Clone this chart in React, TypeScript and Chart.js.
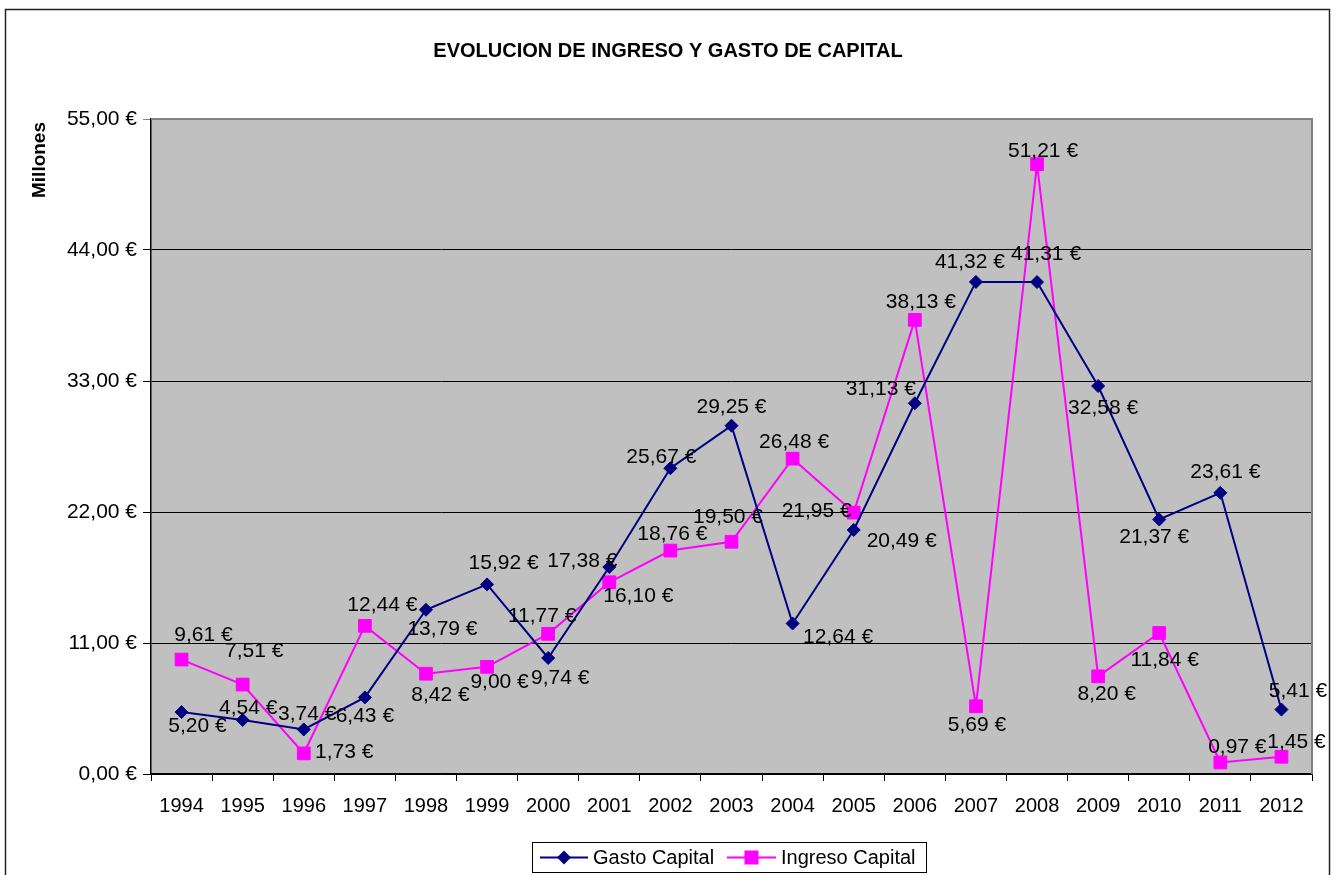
import React, { useEffect, useRef } from 'react';
import { Chart, registerables } from 'chart.js';

Chart.register(...registerables);

const years = ['1994', '1995', '1996', '1997', '1998', '1999', '2000', '2001', '2002', '2003', '2004', '2005', '2006', '2007', '2008', '2009', '2010', '2011', '2012'];
const gastoCapital = [5.2, 4.54, 3.74, 6.43, 13.79, 15.92, 9.74, 17.38, 25.67, 29.25, 12.64, 20.49, 31.13, 41.32, 41.31, 32.58, 21.37, 23.61, 5.41];
const ingresoCapital = [9.61, 7.51, 1.73, 12.44, 8.42, 9.0, 11.77, 16.1, 18.76, 19.5, 26.48, 21.95, 38.13, 5.69, 51.21, 8.2, 11.84, 0.97, 1.45];
const yMin = 0;
const yMax = 55;
const yStep = 11;
const chartTitle = 'EVOLUCION DE INGRESO Y GASTO DE CAPITAL';
const yAxisTitle = 'Millones';
const seriesNames = ['Gasto Capital', 'Ingreso Capital'];

// Placement of each data label (label centre relative to its point, in px)
const gastoLabelOffsets: [number, number][] = [
  [16, 13], [5.5, -13.4], [3.5, -16.5], [0, 17], [16.5, 18], [16.5, -23], [12, 18.5], [-27, -7.5], [-9, -13], [0, -20],
  [45.5, 12.5], [48, 10], [-34, -16], [-6, -21], [9, -29], [5, 20.5], [-5, 16], [5, -22.3], [16.5, -20],
];
const ingresoLabelOffsets: [number, number][] = [
  [22, -26], [11.5, -34.6], [40.5, -3], [17.5, -22.4], [14.5, 19.5], [12.5, 14], [-6, -19], [29, 12], [2, -17.6], [-3.5, -26],
  [1.5, -18], [-37, -3], [6, -19.4], [1, 17], [6, -14.6], [8.5, 16], [5.5, 26], [17, -17], [15, -16],
];

const FONT = '"Liberation Sans", Arial, sans-serif';
const NAVY = '#000080';
const MAGENTA = '#FF00FF';

const euro = (v: number) => v.toFixed(2).replace('.', ',') + ' €';

const decorPlugin = {
  id: 'decor',
  beforeDraw(chart: any) {
    const { ctx, chartArea, width } = chart;
    ctx.save();
    ctx.fillStyle = '#ffffff';
    ctx.fillRect(0, 0, chart.width, chart.height);
    // outer frame
    ctx.strokeStyle = '#222';
    ctx.lineWidth = 1.5;
    ctx.strokeRect(5.5, 9.5, width - 16, chart.height + 20);
    // title
    ctx.fillStyle = '#000';
    ctx.font = `bold 20px ${FONT}`;
    ctx.textAlign = 'center';
    ctx.textBaseline = 'middle';
    ctx.fillText(chartTitle, 668, 51);
    // y title
    ctx.save();
    ctx.translate(40, 160);
    ctx.rotate(-Math.PI / 2);
    ctx.font = `bold 19px ${FONT}`;
    ctx.fillText(yAxisTitle, 0, 0);
    ctx.restore();
    // plot background
    ctx.fillStyle = '#C0C0C0';
    ctx.fillRect(chartArea.left, chartArea.top, chartArea.right - chartArea.left, chartArea.bottom - chartArea.top);
    ctx.restore();
  },
  beforeDatasetsDraw(chart: any) {
    const { ctx, chartArea } = chart;
    ctx.save();
    ctx.strokeStyle = '#808080';
    ctx.lineWidth = 2;
    ctx.beginPath();
    ctx.moveTo(chartArea.left, chartArea.top);
    ctx.lineTo(chartArea.right, chartArea.top);
    ctx.lineTo(chartArea.right, chartArea.bottom);
    ctx.stroke();
    ctx.restore();
  },
  afterDatasetsDraw(chart: any) {
    const { ctx } = chart;
    ctx.save();
    ctx.font = `21px ${FONT}`;
    ctx.fillStyle = '#000';
    ctx.textAlign = 'center';
    ctx.textBaseline = 'middle';
    const offsets = [gastoLabelOffsets, ingresoLabelOffsets];
    chart.data.datasets.forEach((ds: any, di: number) => {
      const meta = chart.getDatasetMeta(di);
      meta.data.forEach((pt: any, i: number) => {
        const [dx, dy] = offsets[di][i];
        ctx.fillText(euro(ds.data[i]), pt.x + dx, pt.y + dy + 1.5);
      });
    });

    // legend
    ctx.font = `20px ${FONT}`;
    const lx = 532.5, ly = 842.5, lw = 394, lh = 30;
    ctx.fillStyle = '#fff';
    ctx.fillRect(lx, ly, lw, lh);
    ctx.strokeStyle = '#000';
    ctx.lineWidth = 1;
    ctx.strokeRect(lx, ly, lw, lh);
    const cy = 857.5;
    // gasto
    ctx.strokeStyle = NAVY;
    ctx.lineWidth = 2;
    ctx.beginPath();
    ctx.moveTo(540, cy);
    ctx.lineTo(588, cy);
    ctx.stroke();
    ctx.fillStyle = NAVY;
    ctx.beginPath();
    ctx.moveTo(564, cy - 7);
    ctx.lineTo(571, cy);
    ctx.lineTo(564, cy + 7);
    ctx.lineTo(557, cy);
    ctx.closePath();
    ctx.fill();
    // ingreso
    ctx.strokeStyle = MAGENTA;
    ctx.beginPath();
    ctx.moveTo(727, cy);
    ctx.lineTo(776, cy);
    ctx.stroke();
    ctx.fillStyle = MAGENTA;
    ctx.fillRect(751.5 - 7, cy - 7, 14, 14);
    ctx.fillStyle = '#000';
    ctx.textAlign = 'left';
    ctx.fillText(seriesNames[0], 593, cy + 1);
    ctx.fillText(seriesNames[1], 781, cy + 1);
    ctx.restore();
  },
};

export default function App() {
  const ref = useRef<HTMLCanvasElement | null>(null);
  useEffect(() => {
    if (!ref.current) return;
    Chart.defaults.font.family = FONT;
    const chart = new Chart(ref.current, {
      type: 'line',
      data: {
        labels: years,
        datasets: [
          {
            label: seriesNames[0],
            data: gastoCapital,
            borderColor: NAVY,
            backgroundColor: NAVY,
            borderWidth: 2,
            pointStyle: 'rectRot',
            pointRadius: 6.5,
            pointBorderWidth: 1,
            pointBorderColor: NAVY,
            pointBackgroundColor: NAVY,
            tension: 0,
            fill: false,
          },
          {
            label: seriesNames[1],
            data: ingresoCapital,
            borderColor: MAGENTA,
            backgroundColor: MAGENTA,
            borderWidth: 2,
            pointStyle: 'rect',
            pointRadius: 9,
            pointBorderWidth: 1,
            pointBorderColor: MAGENTA,
            pointBackgroundColor: MAGENTA,
            tension: 0,
            fill: false,
          },
        ],
      },
      options: {
        responsive: false,
        animation: false,
        events: [],
        layout: { padding: { left: 0, top: 119, right: 28, bottom: 61 } },
        plugins: {
          legend: { display: false },
          title: { display: false },
          tooltip: { enabled: false },
        },
        scales: {
          x: {
            type: 'category',
            offset: true,
            grid: {
              display: true,
              offset: true,
              drawOnChartArea: false,
              drawTicks: true,
              tickLength: 7,
              color: '#000',
              lineWidth: 1,
            },
            border: { display: true, color: '#000', width: 1.5 },
            ticks: { color: '#000', font: { size: 20, family: FONT }, padding: 13, maxRotation: 0, autoSkip: false },
            afterFit: (scale: any) => {
              scale.height = 40;
            },
          },
          y: {
            min: yMin,
            max: yMax,
            grid: {
              color: (c: any) => (c.tick && c.tick.value === yMax ? '#808080' : '#000'),
              lineWidth: 1,
              tickLength: 8,
              drawTicks: true,
            },
            border: { display: true, color: '#000', width: 1.5 },
            ticks: {
              stepSize: yStep,
              color: '#000',
              padding: 6,
              font: { size: 21, family: FONT },
              callback: (v: any) => euro(Number(v)),
            },
            afterFit: (scale: any) => {
              scale.width = 151;
            },
          },
        },
      },
      plugins: [decorPlugin],
    });
    return () => chart.destroy();
  }, []);
  return (
    <div style={{ position: 'fixed', left: 0, top: 0, width: 1340, height: 875, background: '#fff' }}>
      <canvas ref={ref} width={1340} height={875} style={{ display: 'block' }} />
    </div>
  );
}
